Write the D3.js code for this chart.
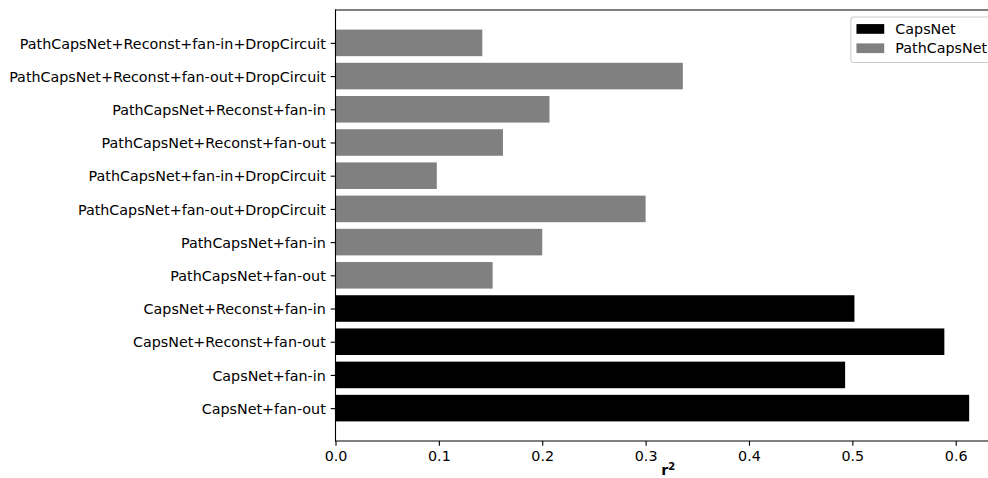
<!DOCTYPE html>
<html>
<head>
<meta charset="utf-8">
<script src="https://cdn.jsdelivr.net/npm/d3@7"></script>
<style>
  html, body { margin: 0; padding: 0; background: #fff; }
  svg { display: block; overflow: hidden; }
  text { font-family: "DejaVu Sans", sans-serif; }
</style>
</head>
<body>
<div id="chart"></div>
<script>
// Model variants, listed bottom to top
const categories = [
  "CapsNet+fan-out",
  "CapsNet+fan-in",
  "CapsNet+Reconst+fan-out",
  "CapsNet+Reconst+fan-in",
  "PathCapsNet+fan-out",
  "PathCapsNet+fan-in",
  "PathCapsNet+fan-out+DropCircuit",
  "PathCapsNet+fan-in+DropCircuit",
  "PathCapsNet+Reconst+fan-out",
  "PathCapsNet+Reconst+fan-in",
  "PathCapsNet+Reconst+fan-out+DropCircuit",
  "PathCapsNet+Reconst+fan-in+DropCircuit"
];
// r^2 score for each variant
const r2Values = [0.613, 0.493, 0.589, 0.502, 0.152, 0.200, 0.300, 0.098, 0.162, 0.207, 0.336, 0.142];
// Model family of each variant
const families = ["CapsNet", "CapsNet", "CapsNet", "CapsNet",
  "PathCapsNet", "PathCapsNet", "PathCapsNet", "PathCapsNet",
  "PathCapsNet", "PathCapsNet", "PathCapsNet", "PathCapsNet"];
const legendNames = ["CapsNet", "PathCapsNet"];
const xTicks = [0.0, 0.1, 0.2, 0.3, 0.4, 0.5, 0.6];

(function () {
  const W = 988, H = 478;
  const pt = 100 / 72;               // points to pixels at 100 dpi
  const fontPx = 10 * pt;            // layout unit (legend padding etc.)
  const textPx = 14.3;               // rendered text size
  const lw = 0.8 * pt;
  const tickLen = 3.5 * pt, tickPad = 3.5 * pt;

  const axLeft = 335.5, axTop = 10, axBottom = 441;
  const xMax = d3.max(r2Values) * 1.05;
  const axRight = axLeft + xMax * 1033.7;   // axes box extends past the canvas edge

  const color = d3.scaleOrdinal().domain(legendNames).range(["#000000", "#808080"]);

  // Band layout: bar width 0.8 of a unit step, 5% margin on the bar extent
  const n = categories.length;
  const y = d3.scaleLinear().domain([-0.4 - 0.59, (n - 1) + 0.4 + 0.59]).range([axBottom, axTop]);
  const x = d3.scaleLinear().domain([0, xMax]).range([axLeft, axRight]);

  const svg = d3.select("#chart").append("svg").attr("width", W).attr("height", H);

  // Bars
  svg.append("g").selectAll("rect")
    .data(categories)
    .join("rect")
    .attr("x", x(0))
    .attr("y", (d, i) => y(i + 0.4))
    .attr("width", (d, i) => x(r2Values[i]) - x(0))
    .attr("height", (d, i) => y(i - 0.4) - y(i + 0.4))
    .attr("fill", (d, i) => color(families[i]));

  // Y axis
  const yAxis = d3.axisLeft(y)
    .tickValues(d3.range(n))
    .tickFormat(i => categories[i])
    .tickSize(tickLen).tickPadding(tickPad);
  const gy = svg.append("g").attr("transform", `translate(${axLeft},0)`).call(yAxis);
  gy.select(".domain").remove();
  gy.selectAll(".tick line").attr("stroke", "#000").attr("stroke-width", lw);
  gy.selectAll(".tick text").attr("font-size", textPx).attr("fill", "#000")
    .attr("font-family", "DejaVu Sans").attr("dy", "0.36em");

  // X axis
  const xAxis = d3.axisBottom(x)
    .tickValues(xTicks)
    .tickFormat(d3.format(".1f"))
    .tickSize(tickLen).tickPadding(tickPad);
  const gx = svg.append("g").attr("transform", `translate(0,${axBottom})`).call(xAxis);
  gx.select(".domain").remove();
  gx.selectAll(".tick line").attr("stroke", "#000").attr("stroke-width", lw);
  gx.selectAll(".tick text").attr("font-size", textPx).attr("fill", "#000")
    .attr("font-family", "DejaVu Sans").attr("dy", "0.7em");

  // Spines
  const spines = svg.append("g").attr("stroke", "#000").attr("stroke-width", lw)
    .attr("fill", "none").attr("stroke-linecap", "square");
  spines.append("line").attr("x1", axLeft).attr("x2", axLeft).attr("y1", axTop).attr("y2", axBottom);
  spines.append("line").attr("x1", axLeft).attr("x2", axRight).attr("y1", axBottom).attr("y2", axBottom);
  spines.append("line").attr("x1", axLeft).attr("x2", axRight).attr("y1", axTop).attr("y2", axTop);
  spines.append("line").attr("x1", axRight).attr("x2", axRight).attr("y1", axTop).attr("y2", axBottom);

  // X label: bold r squared
  const xl = svg.append("text")
    .attr("x", (axLeft + axRight) / 2)
    .attr("y", 475)
    .attr("text-anchor", "middle")
    .attr("font-size", textPx)
    .attr("font-weight", "bold")
    .attr("fill", "#000");
  xl.append("tspan").text("r");
  xl.append("tspan").attr("font-size", textPx * 0.7).attr("dy", -5.5).text("2");

  // Legend, upper right of the axes box
  const pad = 0.5 * fontPx;
  const legW = 143, legH = 45.5;
  const legX = axRight - pad - legW, legY = axTop + pad;
  const leg = svg.append("g").attr("transform", `translate(${legX},${legY})`);
  leg.append("rect")
    .attr("x", 0).attr("y", 0).attr("width", legW).attr("height", legH)
    .attr("rx", 0.2 * fontPx).attr("ry", 0.2 * fontPx)
    .attr("fill", "#fff").attr("fill-opacity", 0.8)
    .attr("stroke", "#cccccc").attr("stroke-width", lw);
  const rowH = 19.3;
  legendNames.forEach((name, i) => {
    const cy = 12 + i * rowH;
    leg.append("rect")
      .attr("x", 0.4 * fontPx).attr("y", cy - 0.35 * fontPx)
      .attr("width", 2 * fontPx).attr("height", 0.7 * fontPx)
      .attr("fill", color(name));
    leg.append("text")
      .attr("x", 0.4 * fontPx + 2 * fontPx + 0.8 * fontPx)
      .attr("y", cy).attr("dy", "0.36em")
      .attr("font-size", textPx).attr("fill", "#000")
      .text(name);
  });
})();
</script>
</body>
</html>
